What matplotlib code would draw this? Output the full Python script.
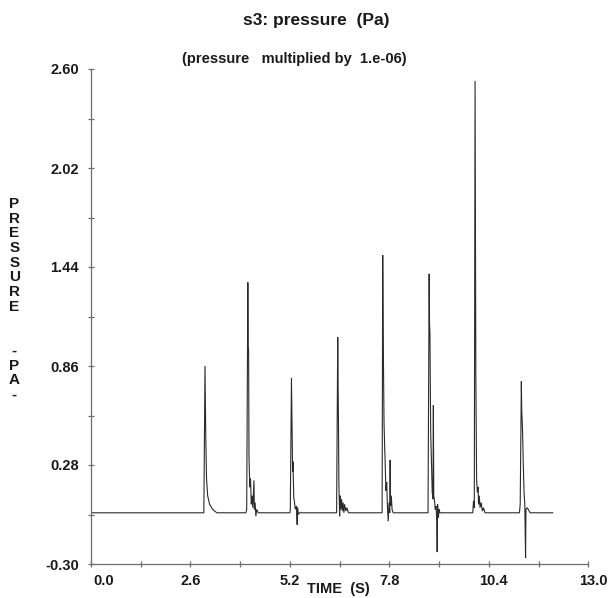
import matplotlib
matplotlib.use("Agg")
import matplotlib.pyplot as plt
import matplotlib.transforms as mtransforms
import numpy as np

# ---------------- data ----------------
title = "s3: pressure  (Pa)"
subtitle = "(pressure   multiplied by  1.e-06)"
xlabel = "TIME  (S)"
ylabel_chars = ["P", "R", "E", "S", "S", "U", "R", "E", "", "", "-", "P", "A", "-"]

x_major = [0.0, 2.6, 5.2, 7.8, 10.4, 13.0]
x_labels = ["0.0", "2.6", "5.2", "7.8", "10.4", "13.0"]
y_major = [-0.30, 0.28, 0.86, 1.44, 2.02, 2.60]
y_labels = ["-0.30", "0.28", "0.86", "1.44", "2.02", "2.60"]

time_s = [
    0.00, 2.95, 2.98, 3.00, 3.02, 3.05, 3.10, 3.18, 3.29,
    4.05, 4.07, 4.10, 4.11, 4.12, 4.13, 4.15, 4.17, 4.19, 4.21, 4.23, 4.26, 4.27, 4.29, 4.31, 4.33, 4.37,
    5.20, 5.21, 5.24, 5.26, 5.27, 5.28, 5.30, 5.32, 5.34, 5.37, 5.39, 5.40, 5.42, 5.45,
    6.42, 6.45, 6.46, 6.47, 6.48, 6.50, 6.51, 6.53, 6.55, 6.57, 6.59, 6.61, 6.63, 6.66, 6.69, 6.73,
    7.61, 7.626, 7.64, 7.66, 7.675, 7.69, 7.71, 7.73, 7.75, 7.77, 7.79, 7.81, 7.82, 7.83, 7.85, 7.87, 7.90,
    8.81, 8.84, 8.85, 8.86, 8.87, 8.88, 8.90, 8.92, 8.94, 8.95, 8.96, 8.98, 9.00, 9.02, 9.04, 9.05, 9.06, 9.08, 9.10, 9.12,
    9.98, 10.00, 10.02, 10.04, 10.06, 10.08, 10.10, 10.12, 10.13, 10.15, 10.17, 10.20, 10.23, 10.26, 10.30,
    11.20, 11.22, 11.25, 11.26, 11.28, 11.30, 11.32, 11.34, 11.36, 11.37, 11.40, 11.43, 11.48, 12.07,
]
pressure = [
    0.00, 0.00, 0.86, 0.45, 0.20, 0.10, 0.05, 0.02, 0.00,
    0.00, 0.02, 1.35, 0.97, 0.95, 0.33, 0.15, 0.20, 0.05, 0.10, 0.03, 0.19, 0.02, 0.06, -0.02, 0.02, 0.00,
    0.00, 0.02, 0.79, 0.43, 0.24, 0.30, 0.09, 0.06, 0.02, 0.04, -0.07, 0.03, -0.01, 0.00,
    0.00, 1.03, 0.75, 0.50, 0.17, -0.02, 0.10, 0.02, 0.08, 0.01, 0.06, 0.00, 0.05, 0.01, 0.03, 0.00,
    0.00, 1.51, 1.00, 0.53, 0.40, 0.29, 0.13, 0.18, 0.03, -0.05, 0.06, 0.00, 0.31, 0.04, 0.10, 0.02, 0.00,
    0.00, 1.40, 1.10, 1.06, 0.75, 0.47, 0.30, 0.12, 0.08, 0.63, 0.10, 0.07, 0.02, 0.04, -0.05, -0.23, 0.05, -0.03, 0.02, 0.00,
    0.00, 0.07, 0.03, 2.53, 0.80, 0.20, 0.12, 0.15, 0.05, 0.10, 0.03, 0.06, 0.01, 0.03, 0.00,
    0.00, 0.05, 0.77, 0.60, 0.49, 0.29, 0.12, 0.05, -0.265, 0.02, 0.03, 0.02, 0.00, 0.00,
]

# ---------------- figure ----------------
W, H, DPI = 609, 598, 100
fig = plt.figure(figsize=(W / DPI, H / DPI), dpi=DPI)
FONT = "Liberation Sans"
TXT = "#1a1a1a"
AXC = "#6e6e6e"

def fx(px):
    return px / W

def fy(py):
    return 1 - py / H

left, right, top, bottom = 91, 588.3, 69, 564
ax = fig.add_axes([fx(left), fy(bottom), fx(right) - fx(left), fy(top) - fy(bottom)])

ax.plot(time_s, pressure, color="#2b2b2b", lw=0.8, solid_joinstyle="miter")

ax.set_xlim(x_major[0], x_major[-1])
ax.set_ylim(y_major[0], y_major[-1])

for s in ["top", "right"]:
    ax.spines[s].set_visible(False)
for s in ["left", "bottom"]:
    ax.spines[s].set_color(AXC)
    ax.spines[s].set_linewidth(0.9)

ax.set_xticks(x_major)
ax.set_xticklabels(x_labels)
ax.set_xticks([v + 1.3 for v in x_major[:-1]], minor=True)
ax.set_yticks(y_major)
ax.set_yticklabels(y_labels)
ax.set_yticks([v + 0.29 for v in y_major[:-1]], minor=True)

ax.tick_params(axis="both", which="both", direction="inout", length=5, width=0.9, color=AXC)
ax.tick_params(axis="x", which="major", pad=5)
ax.tick_params(axis="y", which="major", pad=6)
for lab in ax.get_xticklabels() + ax.get_yticklabels():
    lab.set_fontfamily(FONT)
    lab.set_fontweight("bold")
    lab.set_fontsize(10.5)
    lab.set_color(TXT)

# x tick label offsets as in the reference
offsets = {"0.0": 13, "10.4": 5, "13.0": 5}
for lab in ax.get_xticklabels():
    dx = offsets.get(lab.get_text(), 0)
    if dx:
        lab.set_transform(lab.get_transform() + mtransforms.ScaledTranslation(dx / DPI, 0, fig.dpi_scale_trans))

fig.text(fx(316), fy(21), title, ha="center", va="center", fontfamily=FONT,
         fontweight="bold", fontsize=12.5, color=TXT)
fig.text(fx(294), fy(59), subtitle, ha="center", va="center", fontfamily=FONT,
         fontweight="bold", fontsize=10.5, color=TXT)
fig.text(fx(338), fy(593.5), xlabel, ha="center", va="baseline", fontfamily=FONT,
         fontweight="bold", fontsize=10.5, color=TXT)

for i, ch in enumerate(ylabel_chars):
    if ch:
        fig.text(fx(14.3), fy(207.9 + i * 14.7), ch, ha="center", va="baseline",
                 fontfamily=FONT, fontweight="bold", fontsize=11, color=TXT)

fig.savefig("out.png", dpi=DPI)
